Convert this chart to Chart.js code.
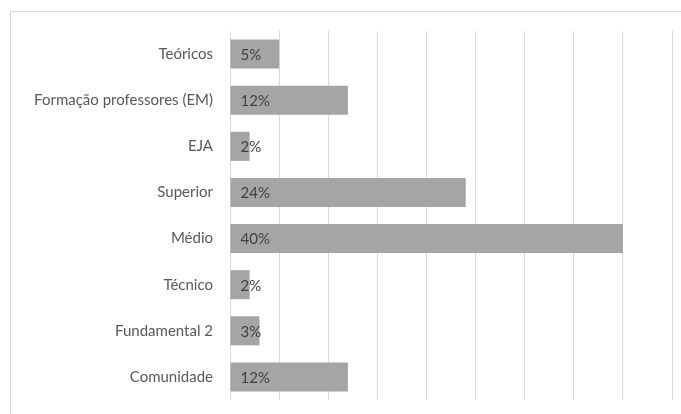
<!DOCTYPE html>
<html lang="pt">
<head>
  <meta charset="UTF-8" />
  <title>Distribuição por segmento</title>
  <script src="https://cdn.jsdelivr.net/npm/chart.js"></script>
  <style>
    html, body { margin: 0; padding: 0; background: #fff; overflow: hidden; }
    .wrap { position: relative; width: 681px; height: 414px; }
    .frame { position: absolute; left: 10px; top: 11px; width: 700px; height: 430px;
             border: 1px solid #d9d9d9; pointer-events: none; }
    canvas { position: absolute; left: 0; top: 0; }
  </style>
</head>
<body>
  <div class="wrap">
    <div class="frame"></div>
    <canvas id="grafico" width="681" height="414"></canvas>
  </div>

  <script>
    const categorias = ['Teóricos', 'Formação professores (EM)', 'EJA', 'Superior', 'Médio', 'Técnico', 'Fundamental 2', 'Comunidade'];
    const percentuais = [5, 12, 2, 24, 40, 2, 3, 12];
    const escalaMax = 45;
    const passo = 5;

    const fonte = { family: 'Lato, "Open Sans", sans-serif', size: 15 };

    // rótulo de valor dentro da barra, junto à base
    const rotulos = {
      id: 'rotulos',
      afterDatasetsDraw(chart) {
        const ctx = chart.ctx;
        const meta = chart.getDatasetMeta(0);
        ctx.save();
        ctx.font = fonte.size + 'px ' + fonte.family;
        ctx.fillStyle = '#404040';
        ctx.textAlign = 'left';
        ctx.textBaseline = 'middle';
        meta.data.forEach((bar, i) => {
          ctx.fillText(percentuais[i] + '%', bar.base + 10, bar.y + 1);
        });
        ctx.restore();
      }
    };

    new Chart(document.getElementById('grafico'), {
      type: 'bar',
      data: {
        labels: categorias,
        datasets: [{
          data: percentuais,
          backgroundColor: '#a5a5a5',
          borderWidth: 0,
          barPercentage: 0.63,
          categoryPercentage: 1
        }]
      },
      options: {
        indexAxis: 'y',
        responsive: false,
        animation: false,
        layout: { padding: { left: 0, top: 31, right: 9, bottom: 14 } },
        plugins: {
          legend: { display: false },
          tooltip: { enabled: false }
        },
        scales: {
          x: {
            min: 0,
            max: escalaMax,
            ticks: { display: false, stepSize: passo },
            grid: { color: '#d9d9d9', lineWidth: 1, drawTicks: false },
            border: { display: false },
            afterFit(scale) { scale.height = 0; }
          },
          y: {
            ticks: { color: '#595959', font: fonte, padding: 17 },
            grid: { display: false, drawTicks: false },
            border: { display: false },
            afterFit(scale) {
              scale.width = 230;
              scale.paddingTop = 0;
              scale.paddingBottom = 0;
            }
          }
        }
      },
      plugins: [rotulos]
    });
  </script>
</body>
</html>
